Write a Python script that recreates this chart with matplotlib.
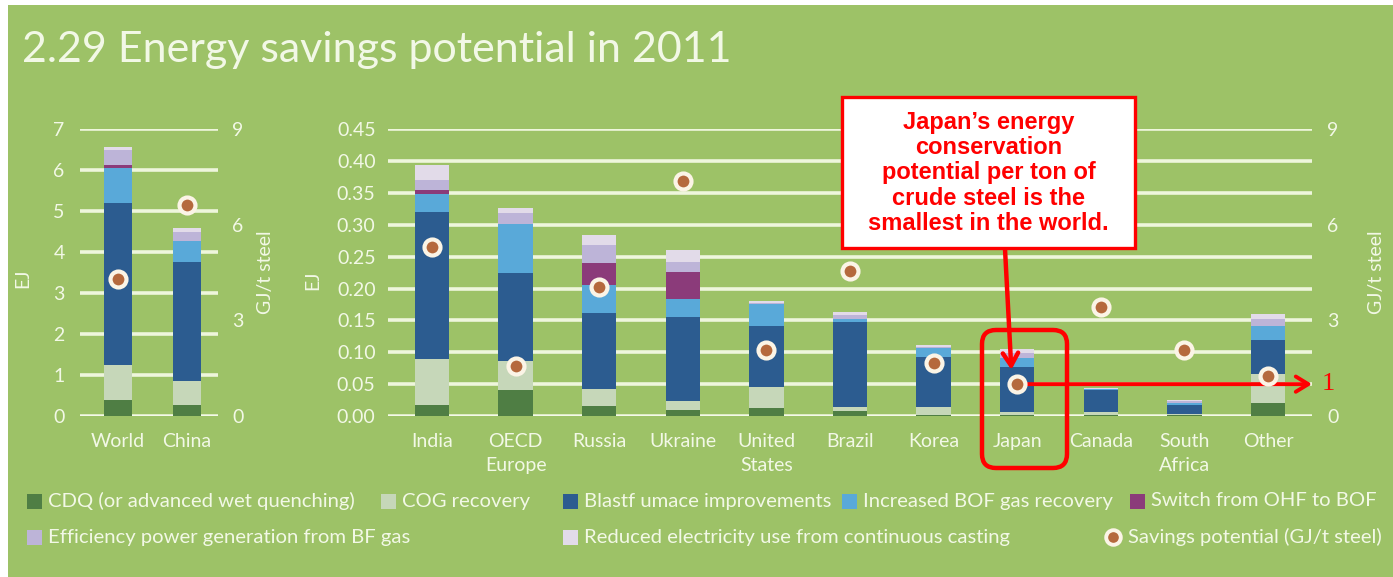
import matplotlib
matplotlib.use("Agg")
import matplotlib.pyplot as plt
import numpy as np
from matplotlib.patches import Rectangle, FancyBboxPatch
from matplotlib.transforms import IdentityTransform

plt.rcParams['font.family'] = ['Lato', 'DejaVu Sans']

# ---- data (EJ per measure, stacked bottom to top) ----
measures = ['CDQ (or advanced wet quenching)', 'COG recovery',
            'Blastf umace improvements', 'Increased BOF gas recovery',
            'Switch from OHF to BOF', 'Efficiency power generation from BF gas',
            'Reduced electricity use from continuous casting']
colors = ['#4f7e44', '#c6d7b9', '#2c5c90', '#59a9d9', '#8b3b7a', '#bdb4d8', '#e2dbe9']

big_regions = ['World', 'China']
big_cdq = [0.39, 0.27]
big_cog = [0.86, 0.58]
big_blast = [3.96, 2.90]
big_bof = [0.84, 0.53]
big_ohf = [0.08, 0.00]
big_eff = [0.36, 0.22]
big_cc = [0.08, 0.08]
big_gj = [4.30, 6.62]

regions = ['India', 'OECD\nEurope', 'Russia', 'Ukraine', 'United\nStates', 'Brazil',
           'Korea', 'Japan', 'Canada', 'South\nAfrica', 'Other']
cdq = [0.017, 0.041, 0.016, 0.009, 0.012, 0.008, 0.002, 0.002, 0.002, 0.001, 0.020]
cog = [0.072, 0.045, 0.027, 0.015, 0.034, 0.006, 0.012, 0.005, 0.005, 0.002, 0.046]
blast = [0.231, 0.138, 0.118, 0.132, 0.095, 0.134, 0.079, 0.070, 0.034, 0.014, 0.053]
bof = [0.029, 0.077, 0.045, 0.027, 0.035, 0.005, 0.013, 0.0135, 0.002, 0.004, 0.022]
ohf = [0.006, 0.0, 0.034, 0.043, 0.0, 0.0, 0.0, 0.0, 0.0, 0.0, 0.0]
eff = [0.015, 0.017, 0.028, 0.016, 0.001, 0.006, 0.002, 0.008, 0.0, 0.002, 0.011]
cc = [0.024, 0.009, 0.016, 0.018, 0.003, 0.005, 0.003, 0.006, 0.001, 0.002, 0.008]
gj = [5.31, 1.58, 4.06, 7.38, 2.07, 4.55, 1.65, 1.00, 3.41, 2.07, 1.26]

W, H = 1393, 577
bg = '#9dc267'
fg = '#f2f8e6'
red = '#ff0000'
tick_fs = 14


def fx(x):
    return x / W


def fy(y):
    return 1 - y / H


fig = plt.figure(figsize=(W / 100, H / 100), dpi=100, facecolor='white')
fig.add_artist(Rectangle((fx(8), 0), 1, fy(5), transform=fig.transFigure,
                         facecolor=bg, edgecolor='none', zorder=-10))

fig.text(fx(22), fy(62), '2.29 Energy savings potential in 2011', color=fg,
         fontsize=31, va='baseline', ha='left')


def stacked(ax, layers, width):
    x = np.arange(len(layers[0]))
    bottom = np.zeros(len(x))
    for vals, c in zip(layers, colors):
        ax.bar(x, vals, width, bottom=bottom, color=c, edgecolor='none', zorder=3)
        bottom += np.array(vals)
    return x


def style(ax, ylim, yticks, fmt, pad):
    ax.set_facecolor('none')
    for s in ax.spines.values():
        s.set_visible(False)
    ax.set_ylim(*ylim)
    ax.set_yticks(yticks)
    ax.set_yticklabels([fmt.format(t) for t in yticks])
    ax.tick_params(length=0, labelsize=tick_fs, colors=fg, pad=pad)
    ax.yaxis.grid(True, color='#eef6dc', lw=2.6, zorder=0)
    ax.set_axisbelow(True)
    ax.axhline(0, color='#f4faea', lw=2, zorder=2)


def right_axis(ax, pad):
    ax.set_ylim(0, 9)
    ax.set_yticks([0, 3, 6, 9])
    ax.tick_params(length=0, labelsize=tick_fs, colors=fg, pad=pad)
    for s in ax.spines.values():
        s.set_visible(False)
    ax.set_ylabel('GJ/t steel', color=fg, fontsize=tick_fs)


def dots(ax, x, vals):
    ax.plot(x, vals, 'o', ms=11.5, mfc='#b5693d', mec='#fbf4e6', mew=3,
            ls='none', zorder=5, clip_on=False)


# ---- left panel: world and China ----
axl = fig.add_axes([fx(80), fy(416), (218 - 80) / W, (416 - 129.3) / H])
xl = stacked(axl, [big_cdq, big_cog, big_blast, big_bof, big_ohf, big_eff, big_cc], 0.4)
style(axl, (0, 7), range(0, 8), '{:d}', 11)
axl.set_xlim(-0.55, 1.45)
axl.set_xticks(xl)
axl.set_xticklabels(big_regions, fontsize=tick_fs, color=fg)
axl.tick_params(axis='x', pad=12)
axl.set_ylabel('EJ', color=fg, fontsize=tick_fs)
axl.yaxis.set_label_coords(-0.35, 0.48)

axlr = axl.twinx()
right_axis(axlr, 10)
dots(axlr, xl, big_gj)
axlr.yaxis.set_label_coords(1.28, 0.5)

# ---- right panel: other regions ----
axr = fig.add_axes([fx(388), fy(416), (1312 - 388) / W, (416 - 129.3) / H])
xr = stacked(axr, [cdq, cog, blast, bof, ohf, eff, cc], 0.41)
style(axr, (0, 0.45), [i * 0.05 for i in range(10)], '{:.2f}', 9)
axr.set_xlim(-0.526, 10.526)
axr.set_xticks(xr)
axr.set_xticklabels(regions, fontsize=tick_fs, color=fg, linespacing=1.5)
axr.tick_params(axis='x', pad=12)
axr.set_ylabel('EJ', color=fg, fontsize=tick_fs)
axr.yaxis.set_label_coords(-0.072, 0.475)

axrr = axr.twinx()
right_axis(axrr, 11)
dots(axrr, xr, gj)
axrr.yaxis.set_label_coords(1.061, 0.5)

# Japan callout
jp = regions.index('Japan')
axrr.annotate('', xy=(1.0, gj[jp]), xycoords=('axes fraction', 'data'),
              xytext=(xr[jp], gj[jp]), textcoords='data',
              arrowprops=dict(arrowstyle='->,head_length=0.9,head_width=0.55',
                              color=red, lw=2.8, shrinkA=0, shrinkB=0), zorder=4)
axrr.annotate('1', xy=(1.0, gj[jp]), xycoords=('axes fraction', 'data'),
              xytext=(7, 0), textcoords='offset points', va='center', ha='left',
              color=red, fontsize=19, family=['Liberation Serif', 'DejaVu Serif'])

fig.add_artist(FancyBboxPatch((982, H - 468), 85, 138,
                              boxstyle='round,pad=0,rounding_size=14',
                              transform=IdentityTransform(), facecolor='none',
                              edgecolor=red, lw=3.2, zorder=6))
fig.add_artist(Rectangle((fx(842), fy(248)), (1135 - 842) / W, (248 - 97) / H,
                         transform=fig.transFigure, facecolor='white',
                         edgecolor=red, lw=2.4, zorder=6))
fig.text(fx(988.5), fy(173),
         'Japan\u2019s energy\nconservation\npotential per ton of\n'
         'crude steel is the\nsmallest in the world.',
         ha='center', va='center', color=red, fontsize=17, fontweight='bold',
         linespacing=1.12, family=['Liberation Sans', 'DejaVu Sans'], zorder=7)
axrr.annotate('', xy=(xr[jp] - 0.07, 1.45), xycoords='data',
              xytext=(1005, H - 249), textcoords='figure pixels',
              arrowprops=dict(arrowstyle='->,head_length=0.9,head_width=0.55',
                              color=red, lw=3.2, shrinkA=0, shrinkB=0), zorder=6)

# ---- legend ----
row1, row2 = 501, 537
sq = 15
leg_fs = 14.6
entries = [(27, row1, 0), (381, row1, 1), (563, row1, 2), (842, row1, 3), (1130, row1, 4),
           (27, row2, 5), (563, row2, 6)]
for x0, yc, i in entries:
    fig.add_artist(Rectangle((fx(x0), fy(yc + sq / 2)), sq / W, sq / H,
                             transform=fig.transFigure, facecolor=colors[i],
                             edgecolor='none'))
    fig.text(fx(x0 + sq + 6), fy(yc), measures[i], color=fg, fontsize=leg_fs,
             va='center', ha='left')
fig.add_artist(plt.Line2D([fx(1113)], [fy(row2)], marker='o', ms=10.5,
                          mfc='#b5693d', mec='#fbf4e6', mew=2.8,
                          transform=fig.transFigure))
fig.text(fx(1128), fy(row2), 'Savings potential (GJ/t steel)', color=fg,
         fontsize=leg_fs, va='center', ha='left')

fig.savefig('out.png', dpi=100, facecolor=fig.get_facecolor())
